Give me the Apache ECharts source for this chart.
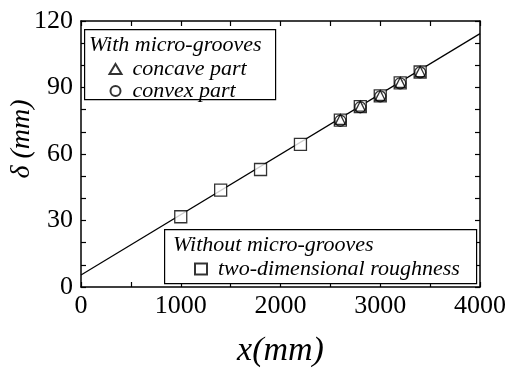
<!DOCTYPE html>
<html><head><meta charset="utf-8">
<script src="https://cdn.jsdelivr.net/npm/echarts@6/dist/echarts.min.js"></script>
<style>html,body{margin:0;padding:0;background:#fff}#c{width:509px;height:369px}</style>
</head><body><div id="c"></div>
<script>
// Data
const squareX = [1000, 1400, 1800, 2200, 2600, 2800, 3000, 3200, 3400];
const squareY = [31.7, 43.7, 53.0, 64.3, 75.3, 81.4, 86.2, 92.1, 97.0];
const concaveX = [2600, 2800, 3000, 3200, 3400];
const concaveY = [75.6, 81.6, 86.4, 92.3, 97.2];
const convexX = [2600, 2800, 3000, 3200, 3400];
const convexY = [75.0, 81.1, 86.0, 91.9, 96.8];
const fitX = [0, 4000];
const fitY = [5.4, 114.3];
const xTicks = [0, 1000, 2000, 3000, 4000];
const yTicks = [0, 30, 60, 90, 120];

const zip = (a, b) => a.map((v, i) => [v, b[i]]);
const FONT = '"Liberation Serif","DejaVu Serif",serif';
const mk = {color:'#fff', borderColor:'#000', borderWidth:1.3};

const chart = echarts.init(document.getElementById('c'), null, {renderer:'canvas'});
const axisCommon = {
  axisLine:{show:true, onZero:false, lineStyle:{color:'#000', width:1.5}},
  axisTick:{show:true, inside:true, length:5, lineStyle:{color:'#000', width:1.2}},
  minorTick:{show:true, length:5, lineStyle:{color:'#000', width:1.2}},
  splitLine:{show:false}
};
const plain = v => String(v);
chart.setOption({
  animation:false,
  grid:{left:81, right:29, top:21, bottom:82, show:false, containLabel:false, outerBoundsMode:'none'},
  xAxis:[
    Object.assign({type:'value', min:xTicks[0], max:xTicks[xTicks.length-1], interval:1000, position:'bottom',
      name:'x(mm)', nameLocation:'middle', nameGap:47, nameMoveOverlap:false,
      nameTextStyle:{fontFamily:FONT, fontStyle:'italic', fontSize:34, color:'#000'},
      axisLabel:{fontFamily:FONT, fontSize:26, color:'#000', margin:6, formatter:plain}}, axisCommon,
      {minorTick:Object.assign({}, axisCommon.minorTick, {splitNumber:2})}),
    Object.assign({type:'value', min:xTicks[0], max:xTicks[xTicks.length-1], interval:1000, position:'top',
      axisLabel:{show:false}}, axisCommon,
      {minorTick:Object.assign({}, axisCommon.minorTick, {splitNumber:2})})
  ],
  yAxis:[
    Object.assign({type:'value', min:yTicks[0], max:yTicks[yTicks.length-1], interval:30, position:'left',
      name:'δ (mm)', nameLocation:'middle', nameGap:45, nameRotate:90, nameMoveOverlap:false,
      nameTextStyle:{fontFamily:FONT, fontStyle:'italic', fontSize:28, color:'#000', padding:[0,0,0,30]},
      axisLabel:{fontFamily:FONT, fontSize:26, color:'#000', margin:8, formatter:plain}}, axisCommon,
      {minorTick:Object.assign({}, axisCommon.minorTick, {splitNumber:3})}),
    Object.assign({type:'value', min:yTicks[0], max:yTicks[yTicks.length-1], interval:30, position:'right',
      axisLabel:{show:false}}, axisCommon,
      {minorTick:Object.assign({}, axisCommon.minorTick, {splitNumber:3})})
  ],
  legend:[
    {data:['concave part','convex part'], left:103, top:53, orient:'vertical', itemGap:0, z:60,
     itemWidth:12, itemHeight:10,
     textStyle:{fontFamily:FONT, fontStyle:'italic', fontSize:22, color:'#000', lineHeight:22, padding:[0,0,0,6]}},
    {data:['two-dimensional roughness'], left:189, top:253, orient:'vertical', z:60,
     itemWidth:12, itemHeight:11,
     textStyle:{fontFamily:FONT, fontStyle:'italic', fontSize:22, color:'#000', lineHeight:22, padding:[0,0,0,6]}}
  ],
  graphic:[
    {type:'rect', left:84, top:29, shape:{width:191, height:70}, style:{fill:'#fff', stroke:'#000', lineWidth:1.2}, z:10},
    {type:'text', left:89, top:34, style:{text:'With micro-grooves', font:'italic 22px '+FONT, fill:'#000'}, z:11},
    {type:'rect', left:164, top:229, shape:{width:312, height:54}, style:{fill:'#fff', stroke:'#000', lineWidth:1.2}, z:10},
    {type:'text', left:173, top:234, style:{text:'Without micro-grooves', font:'italic 22px '+FONT, fill:'#000'}, z:11}
  ],
  series:[
    {type:'line', name:'fit', data:zip(fitX, fitY), symbol:'none', lineStyle:{color:'#000', width:1.2}, z:2},
    {type:'scatter', name:'two-dimensional roughness', data:zip(squareX, squareY), symbol:'rect', symbolSize:12, itemStyle:mk, z:3},
    {type:'scatter', name:'concave part', data:zip(concaveX, concaveY), symbol:'triangle', symbolSize:10, itemStyle:mk, z:4},
    {type:'scatter', name:'convex part', data:zip(convexX, convexY), symbol:'circle', symbolSize:11, itemStyle:Object.assign({}, mk, {color:'none'}), z:5}
  ]
});
</script></body></html>
